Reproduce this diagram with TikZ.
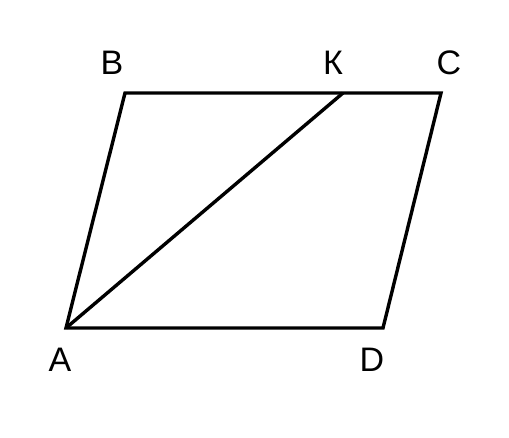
\documentclass[tikz,border=0pt]{standalone}
\usepackage{fontspec}
\setmainfont{Liberation Sans}
\usepackage{tikz}
\usetikzlibrary{positioning}
\tikzset{
    vertex/.style={
           inner sep=0pt,
           font=\fontsize{34}{40}\selectfont,
           text centered,
           },
}
\tikzset{
    side/.style={
           draw=black, line width=3.4pt,
           line join=miter,
           },
}

\begin{document}
\begin{tikzpicture}[x=1pt,y=-1pt]
\useasboundingbox (0,0) rectangle (509,437);
\coordinate (A) at (66,328);
\coordinate (B) at (125,93);
\coordinate (K) at (343,93);
\coordinate (C) at (441,93);
\coordinate (D) at (383,328);
\node[vertex] (Al) at (60,360) {A};
\node[vertex] (Bl) at (112,63) {B};
\node[vertex] (Kl) at (333,63) {К};
\node[vertex] (Cl) at (449,63) {C};
\node[vertex] (Dl) at (372,360) {D};
\draw[side] (A) -- (B) -- (C) -- (D) -- cycle;
\draw[side] (A) -- (K);
\end{tikzpicture}
\end{document}
